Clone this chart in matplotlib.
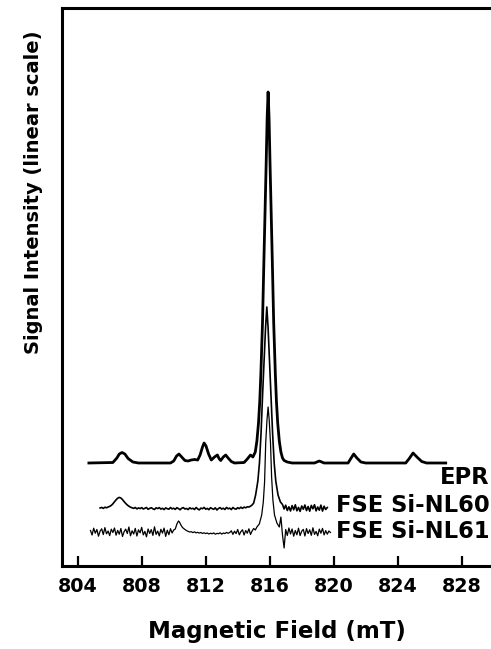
import numpy as np
import matplotlib
matplotlib.use("Agg")
import matplotlib.pyplot as plt

plt.rcParams['font.family'] = ['DejaVu Sans']
plt.rcParams['font.weight'] = 'bold'

# ---------------- data (field in mT, intensity in arbitrary units above each trace baseline)
epr_x = [804.7, 806.2, 806.45, 806.6, 806.77, 806.95, 807.15, 807.45, 807.8,
         809.8, 810.0, 810.18, 810.33, 810.5, 810.7, 810.9, 811.1, 811.3, 811.5,
         811.65, 811.8, 811.9, 812.02, 812.18, 812.35, 812.55, 812.73, 812.85, 812.94,
         813.1, 813.25, 813.4, 813.6, 813.8,
         814.4, 814.6, 814.8, 814.95, 815.1, 815.2, 815.3, 815.38, 815.45, 815.55,
         815.64, 815.7, 815.78, 815.84, 815.9, 815.96, 816.02, 816.1, 816.16, 816.25,
         816.35, 816.42, 816.5, 816.6, 816.7, 816.8, 816.9, 817.1, 817.4,
         818.8, 819.1, 819.4, 820.9, 821.05, 821.25, 821.45, 821.7, 822.0,
         824.5, 824.7, 824.96, 825.2, 825.5, 825.8, 827.0]
epr_y = [0, 0.5, 5, 9, 10.5, 9, 4.5, 1, 0,
         0, 2, 7, 9, 6, 2.5, 2, 3, 3.5, 3,
         8, 16, 20, 17, 9, 3, 6, 8, 4, 2.5,
         6, 8, 5, 1.5, 0,
         0.5, 4, 8, 6, 11, 22, 40, 62, 90, 140,
         204, 245, 300, 345, 371, 345, 300, 245, 204, 140,
         90, 62, 40, 22, 11, 5, 2.5, 1, 0,
         0, 2, 0, 0, 4, 9, 5, 1, 0,
         0, 4, 10, 6, 1.5, 0, 0]

# FSE Si-NL60: noisy segments on a 0.1 mT grid + main line
nl60_a_start, nl60_a_y = 805.4, [
    0, 0.6, -0.4, 0.8, 0.2, 1.0, 1.6,
    2.6, 4.2, 6.2, 8.2, 9.8, 10.6, 10.0, 8.4, 6.4, 4.6,
    3.0, 1.8, 0.8, 0.2, -0.4, 0.5, -0.9, 0.1, -0.6, 0.4,
    -1.0, -0.2, 0.5, -1.3, -0.4, 0.3, -0.8, -1.5, 0.2, -0.6,
    0.4, -1.1, -0.3, -1.6, 0.1, -0.7, -1.2, 0.5, -0.9, -0.2,
    -1.4, 0.3, -0.6, -1.8, -0.2, 0.4, -1.0, -0.5, -1.6, 0.2,
    -0.8, -0.3, -1.5, 0.5, -0.9, -1.9, -0.1, -0.7, 0.6, -1.2,
    -0.4, -1.7, 0.3, -0.6, -1.3, 0.2, -2.0, -0.5, 0.4, -1.1,
    -0.2, -1.5, 0.6, -0.8, -0.1, -1.6, 0.5, -0.7, -1.2, 0.3,
    -0.6, 0.8, -0.4, 0.9, 0.2, 1.2, 1.0, 1.8, 3.0]
nl60_peak_x = [815.0, 815.12, 815.26, 815.36, 815.46, 815.56, 815.66, 815.74, 815.82,
               815.9, 815.98, 816.08, 816.18, 816.28, 816.38, 816.52, 816.67]
nl60_peak_y = [5, 13, 27, 45, 75, 115, 150, 180, 201, 180, 150, 115, 75, 45, 27, 13, 6]
nl60_b_start, nl60_b_y = 816.8, [
    3.5, -1.0, 2.8, -2.5, 1.2, -3.0, 2.4, -1.8, 3.2, -2.8, 0.6, -3.4, 2.0, -1.2, 3.0,
    -2.6, 1.5, -3.2, 2.6, -0.8, 3.3, -2.9, 1.0, -2.2, 2.9, -3.1, 1.8, -1.5, 0.5]

# FSE Si-NL61
nl61_a_start, nl61_a_y = 804.8, [
    1.5, -3.0, 3.8, -1.2, 2.5, -4.2, 0.8, 3.2, -2.6, 4.4, -1.8, 1.0, -3.6, 2.8, -0.5,
    4.0, -3.2, 1.6, -2.2, 3.5, -4.5, 0.3, 2.9, -1.5, 5.0, -3.8, 1.2, -2.0, 3.6, -4.0,
    2.2, -0.8, 4.6, -2.9, 0.6, -4.8, 3.0, -1.4, 2.4, -3.4, 5.2, -2.4, 0.9, -3.9, 2.7,
    -1.1, 3.9, -4.4, 1.8, -2.7, 3.3, -1.0, 2.0]
nl61_p1_x = [810.1, 810.2, 810.3, 810.36, 810.45, 810.55, 810.7, 810.85, 811.0]
nl61_p1_y = [3, 8, 11, 10, 7, 4.5, 2.5, 1, 0]
nl61_b_start, nl61_b_y = 811.1, [
    0.3, -0.6, 0.2, -0.9, -0.3, -1.1, -0.5, -1.4, -0.8, -1.6, -1.0, -2.0, -1.2, -1.8,
    -0.9, -2.2, -1.4, -1.7, -0.8, -2.1, -1.0, -1.6, -0.4, -1.3]
nl61_c_start, nl61_c_y = 813.5, [
    -0.5, 1.2, -2.4, 0.8, -1.6, 2.5, -2.8, 0.4, 2.2, -3.0, 1.5, -1.2, 3.2, -2.5, 1.0, 3.5, 2.0]
nl61_peak_x = [815.2, 815.35, 815.5, 815.6, 815.68, 815.75, 815.83, 815.9, 815.97,
               816.05, 816.12, 816.2, 816.3, 816.45, 816.6]
nl61_peak_y = [5, 8, 17, 30, 50, 89, 112, 125, 112, 89, 55, 32, 17, 9, 5]
nl61_d_start, nl61_d_y = 816.7, [
    15, -3, -16, 2.5, -3.5, 4.0, -2.0, 3.0, -4.2, 1.5, -2.8, 3.8, -3.6, 0.8, 2.6, -4.0,
    3.4, -1.5, 2.2, -3.3, 4.2, -2.4, 0.6, -3.8, 2.9, -1.2, 3.6, -2.9, 1.4, -2.2, 1.0, -0.5]

GRID_STEP = 0.1
xticks = [804, 808, 812, 816, 820, 824, 828]
labels = ["EPR", "FSE Si-NL60", "FSE Si-NL61"]
offsets = [103, 58, 34]


def grid_seg(start, ys):
    return list(start + GRID_STEP * np.arange(len(ys))), list(ys)


def join(*segs):
    xs, ys = [], []
    for sx, sy in segs:
        xs += list(sx)
        ys += list(sy)
    return np.array(xs), np.array(ys)


nl60_x, nl60_y = join(grid_seg(nl60_a_start, nl60_a_y), (nl60_peak_x, nl60_peak_y),
                      grid_seg(nl60_b_start, nl60_b_y))
nl61_x, nl61_y = join(grid_seg(nl61_a_start, nl61_a_y), (nl61_p1_x, nl61_p1_y),
                      grid_seg(nl61_b_start, nl61_b_y), grid_seg(nl61_c_start, nl61_c_y),
                      (nl61_peak_x, nl61_peak_y), grid_seg(nl61_d_start, nl61_d_y))

# ---------------- figure
fig = plt.figure(figsize=(4.91, 6.49), dpi=100)
ax = fig.add_axes([62 / 491, 83 / 649, 1 - 62 / 491, 558 / 649])

ax.plot(epr_x, np.array(epr_y) + offsets[0], color='black', lw=2.0,
        solid_joinstyle='round')
ax.plot(nl60_x, nl60_y + offsets[1], color='black', lw=1.2, solid_joinstyle='round')
ax.plot(nl61_x, nl61_y + offsets[2], color='black', lw=0.9, solid_joinstyle='round')

label_y = [89, 60, 34]
for lab, ly in zip(labels, label_y):
    ax.text(829.75, ly, lab, ha='right', va='center', fontsize=16.3,
            fontweight='bold')

ax.set_xlim(803.02, 829.83)
ax.set_ylim(0, 558)
ax.set_xticks(xticks)
ax.set_xticklabels([str(t) for t in xticks], fontsize=13.8, fontweight='bold')
ax.set_yticks([])
ax.tick_params(axis='x', direction='in', length=7, width=1.6, pad=8)
for s in ['left', 'bottom', 'top']:
    ax.spines[s].set_linewidth(2.2)
ax.spines['right'].set_visible(False)

ax.set_xlabel("Magnetic Field (mT)", fontsize=16.5, fontweight='bold', labelpad=17)
ax.set_ylabel("Signal Intensity (linear scale)", fontsize=14, fontweight='bold')
ax.yaxis.set_label_coords(-(62 - 43) / 429, 1 - (192 - 8) / 558)

fig.savefig("out.png", dpi=100)
